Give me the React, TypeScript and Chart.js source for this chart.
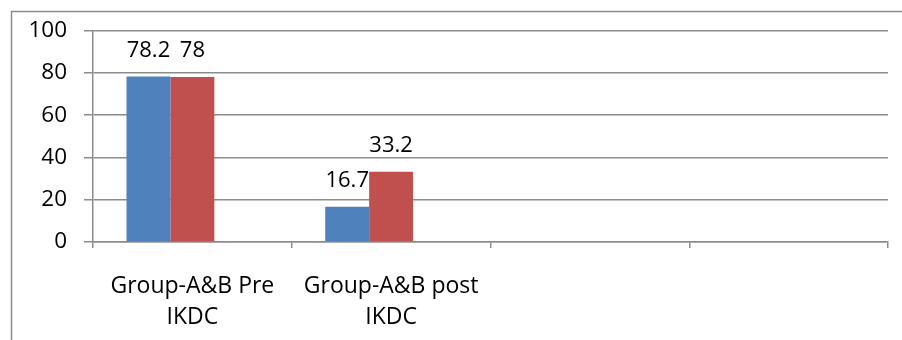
import React, { useEffect, useRef } from "react";
import { Chart, registerables } from "chart.js";

Chart.register(...registerables);

const categories: (string | string[])[] = [["Group-A&B Pre", "IKDC"], ["Group-A&B post", "IKDC"], "", ""];
const seriesBlue: (number | null)[] = [78.2, 16.7, null, null];
const seriesRed: (number | null)[] = [78, 33.2, null, null];
const seriesEmpty: (number | null)[] = [null, null, null, null];
const yMin = 0;
const yMax = 100;
const yStep = 20;

const FONT = "'Open Sans', 'Liberation Sans', sans-serif";
const GRID = "#8c8c8c";

const borderPlugin = {
  id: "outerBorder",
  beforeDraw(chart: any) {
    const ctx = chart.ctx;
    ctx.save();
    ctx.strokeStyle = GRID;
    ctx.lineWidth = 1.5;
    ctx.beginPath();
    ctx.moveTo(11.5, chart.height);
    ctx.lineTo(11.5, 11.5);
    ctx.lineTo(chart.width, 11.5);
    ctx.stroke();
    ctx.restore();
  },
};

const labelPlugin = {
  id: "valueLabels",
  afterDatasetsDraw(chart: any) {
    const ctx = chart.ctx;
    ctx.save();
    ctx.font = `22px ${FONT}`;
    ctx.fillStyle = "#000";
    ctx.textAlign = "center";
    ctx.textBaseline = "middle";
    [0, 1].forEach((di) => {
      const meta = chart.getDatasetMeta(di);
      const data = chart.data.datasets[di].data;
      meta.data.forEach((el: any, i: number) => {
        const v = data[i];
        if (v === null || v === undefined) return;
        ctx.fillText(String(v), el.x, el.y - 26);
      });
    });
    ctx.restore();
  },
};

export default function App() {
  const ref = useRef<HTMLCanvasElement | null>(null);
  useEffect(() => {
    document.body.style.margin = "0";
    if (!ref.current) return;
    const chart = new Chart(ref.current, {
      type: "bar",
      data: {
        labels: categories,
        datasets: [
          { data: seriesBlue, backgroundColor: "#4F81BD", categoryPercentage: 0.663, barPercentage: 1 },
          { data: seriesRed, backgroundColor: "#C0504D", categoryPercentage: 0.663, barPercentage: 1 },
          { data: seriesEmpty, backgroundColor: "#9BBB59", categoryPercentage: 0.663, barPercentage: 1 },
        ],
      },
      options: {
        responsive: false,
        animation: false,
        layout: { padding: { left: 0, top: 28, right: 14, bottom: 0 } },
        plugins: { legend: { display: false }, tooltip: { enabled: false } },
        scales: {
          x: {
            grid: { offset: true, drawOnChartArea: false, drawTicks: true, tickLength: 6, color: GRID, lineWidth: 1.5 },
            border: { display: true, color: GRID, width: 1.5 },
            ticks: { font: { family: FONT, size: 23, lineHeight: 1.35 }, color: "#000", padding: 23, maxRotation: 0, autoSkip: false },
            afterFit: (s: any) => { s.height = 98; },
          },
          y: {
            min: yMin,
            max: yMax,
            ticks: { stepSize: yStep, font: { family: FONT, size: 22.5 }, color: "#000", padding: 17 },
            grid: { color: GRID, lineWidth: 1.5, tickLength: 9 },
            border: { display: true, color: GRID, width: 1.5 },
            afterFit: (s: any) => { s.width = 93; },
          },
        },
      },
      plugins: [borderPlugin, labelPlugin],
    });
    return () => chart.destroy();
  }, []);
  return <canvas ref={ref} width={902} height={340} style={{ display: "block", width: 902, height: 340 }} />;
}
